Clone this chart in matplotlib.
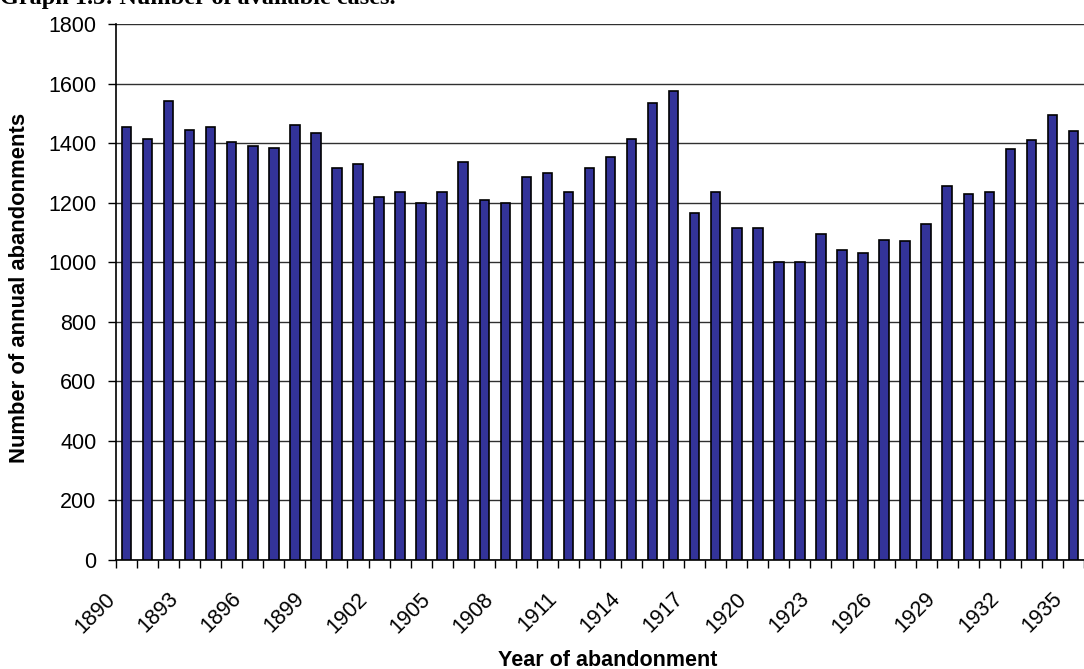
import numpy as np
import matplotlib.pyplot as plt
import matplotlib.transforms as mtransforms

years = list(range(1890, 1936))
abandonments = [1455, 1415, 1540, 1445, 1455, 1405, 1390, 1385, 1460, 1435,
                1315, 1330, 1220, 1235, 1200, 1235, 1335, 1210, 1200, 1285,
                1300, 1235, 1315, 1355, 1415, 1535, 1575, 1165, 1235, 1115,
                1115, 1000, 1000, 1095, 1040, 1030, 1075, 1070, 1130, 1255,
                1230, 1235, 1380, 1410, 1495, 1440]
y_ticks = [0, 200, 400, 600, 800, 1000, 1200, 1400, 1600, 1800]

plt.rcParams['font.family'] = ['Liberation Sans', 'DejaVu Sans']

fig = plt.figure(figsize=(10.84, 6.69), dpi=100)
ax = fig.add_axes([116 / 1084, 1 - 560 / 669, 1 - 116 / 1084, 536 / 669])

x = np.arange(len(years))
ax.bar(x, abandonments, width=0.45, color="#333399", edgecolor="black",
       linewidth=1.2, zorder=3)

ax.set_ylim(0, 1800)
ax.set_yticks(y_ticks)
ax.set_xlim(-0.5, 44.96)

# ticks on category boundaries, labels every third year
ax.set_xticks(np.arange(len(years) + 1) - 0.5)
ax.set_xticklabels([])
ax.tick_params(axis="x", which="major", length=6, width=1, direction="out")
label_pos = x[::3]
ax.set_xticks(label_pos, minor=True)
ax.set_xticklabels([str(years[i]) for i in label_pos], minor=True,
                   rotation=45, ha="right", rotation_mode="anchor", fontsize=15.5)
ax.tick_params(axis="x", which="minor", length=0, pad=14)
shift = mtransforms.ScaledTranslation(-22 / 100, -9 / 100, fig.dpi_scale_trans)
for lbl in ax.get_xticklabels(minor=True):
    lbl.set_transform(lbl.get_transform() + shift)
ax.tick_params(axis="y", length=6, width=1, labelsize=15.5, pad=8)

ax.grid(axis="y", color="#303030", linewidth=1, zorder=0)
ax.spines["top"].set_visible(False)
ax.spines["right"].set_visible(False)
ax.spines["left"].set_linewidth(1.2)
ax.spines["bottom"].set_linewidth(1.2)

fig.text(608 / 1084, 1 - 666 / 669, "Year of abandonment", fontsize=15.5,
         fontweight="bold", ha="center", va="baseline")
fig.text(20 / 1084, 1 - 288 / 669, "Number of annual abandonments",
         fontsize=15.8, fontweight="bold", rotation=90, ha="center", va="center")

fig.text(0.0, 1 - 4 / 669, "Graph 1.3: Number of available cases.",
         fontfamily="Liberation Serif", fontweight="bold", fontsize=17.5,
         ha="left", va="baseline")

fig.savefig("out.png", dpi=100)
